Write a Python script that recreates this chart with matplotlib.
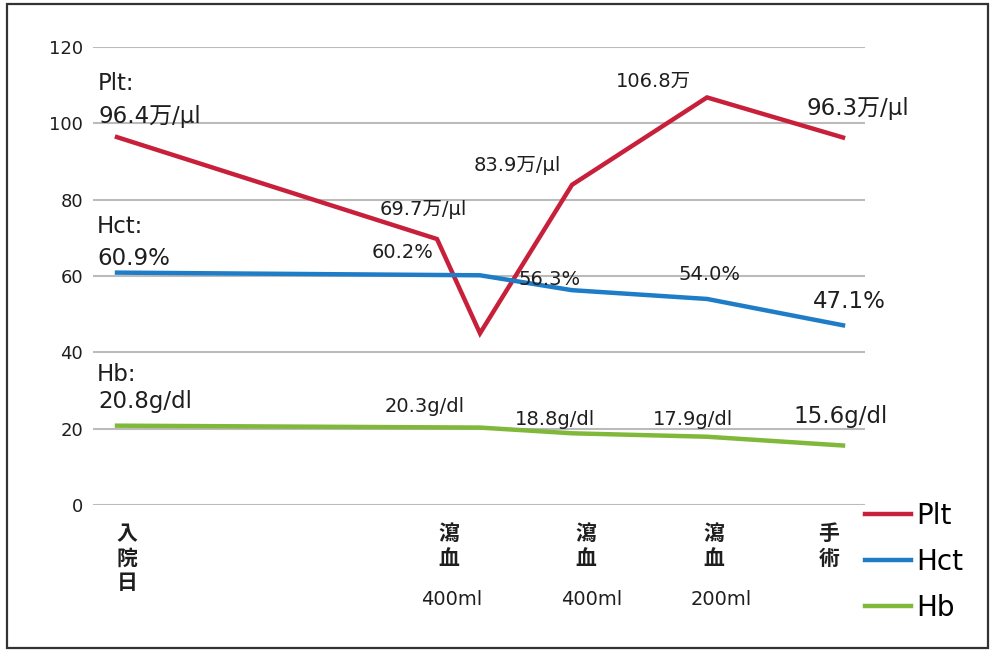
import matplotlib
matplotlib.use("Agg")
import matplotlib.pyplot as plt
from matplotlib.patches import Rectangle
import matplotlib.transforms as mtransforms

plt.rcParams['font.family'] = ['DejaVu Sans', 'Noto Sans CJK JP']

# x positions (relative time units) and values
plt_x = [0.0, 3.20, 3.63, 4.55, 5.90, 7.26]
plt_v = [96.4, 69.7, 45.0, 83.9, 106.8, 96.3]
hct_x = [0.0, 3.63, 4.55, 5.90, 7.26]
hct_v = [60.9, 60.2, 56.3, 54.0, 47.1]
hb_x = [0.0, 3.63, 4.55, 5.90, 7.26]
hb_v = [20.8, 20.3, 18.8, 17.9, 15.6]

tick_labels = ["入\n院\n日", "瀉\n血", "瀉\n血", "瀉\n血", "手\n術"]
volume_labels = ["400ml", "400ml", "200ml"]
yticks = [0, 20, 40, 60, 80, 100, 120]

c_plt = "#C8203A"
c_hct = "#1E7DC6"
c_hb = "#80B83A"
tc = "#1E1E1E"

fig = plt.figure(figsize=(9.92, 6.5), dpi=100)
fig.patches.append(Rectangle((7/992, 2/650), 981/992, 644/650, transform=fig.transFigure,
                             fill=False, edgecolor="#333333", linewidth=1.6))
ax = fig.add_axes([93/992, 0.223, 772/992, 458/650])
ax.set_xlim(-0.24, 7.48)
ax.set_ylim(0, 120)
for s in ax.spines.values():
    s.set_visible(False)
ax.set_yticks(yticks)
ax.set_yticklabels([str(v) for v in yticks], fontsize=13, color=tc)
ax.yaxis.grid(True, color="#BBBBBB", linewidth=1.5)
ax.set_axisbelow(True)
ax.tick_params(axis='y', length=0, pad=7)

tick_x = [0.10, 3.32, 4.69, 5.97, 7.12]
ax.set_xticks(tick_x)
ax.set_xticklabels(tick_labels, fontsize=15, fontweight='bold', color=tc,
                   linespacing=1.2, family=['Noto Sans CJK JP'])
ax.tick_params(axis='x', length=0, pad=13)

ml_x = [3.35, 4.75, 6.04]
trans = mtransforms.blended_transform_factory(ax.transData, ax.transAxes)
for xv, t in zip(ml_x, volume_labels):
    ax.text(xv, (505 - 605) / 458, t, fontsize=14, color=tc, ha='center', va='baseline',
            transform=trans, clip_on=False)

l1, = ax.plot(plt_x, plt_v, color=c_plt, lw=3.2, solid_joinstyle='miter', label="Plt")
l2, = ax.plot(hct_x, hct_v, color=c_hct, lw=3.2, label="Hct")
l3, = ax.plot(hb_x, hb_v, color=c_hb, lw=3.2, label="Hb")

def px2d(px, py):
    return (px - 117) / 100, (505 - py) / 3.817

BIG, SMALL = 16.5, 14
annots = [
    ("Plt:", 98, 90, BIG), ("96.4万/μl", 98, 123, BIG),
    ("69.7万/μl", 380, 215, SMALL), ("60.2%", 372, 258, SMALL),
    ("83.9万/μl", 474, 171, SMALL), ("106.8万", 616, 87, SMALL),
    ("96.3万/μl", 807, 115, BIG),
    ("Hct:", 97, 233, BIG), ("60.9%", 97, 265, BIG),
    ("56.3%", 518, 285, SMALL), ("54.0%", 678, 280, SMALL), ("47.1%", 813, 308, BIG),
    ("Hb:", 97, 381, BIG), ("20.8g/dl", 98, 408, BIG),
    ("20.3g/dl", 385, 412, SMALL), ("18.8g/dl", 515, 425, SMALL),
    ("17.9g/dl", 653, 425, SMALL), ("15.6g/dl", 793, 423, BIG),
]
for t, px, py, fs in annots:
    x, y = px2d(px, py)
    ax.text(x, y, t, fontsize=fs, color=tc, ha='left', va='baseline', clip_on=False)

fig.legend(handles=[l1, l2, l3], loc='upper left', bbox_to_anchor=(865/992, 1 - 502/650),
           frameon=False, fontsize=20, handlelength=1.65, handletextpad=0.2,
           labelspacing=0.64, borderaxespad=0, borderpad=0)

fig.savefig("out.png", dpi=100)
